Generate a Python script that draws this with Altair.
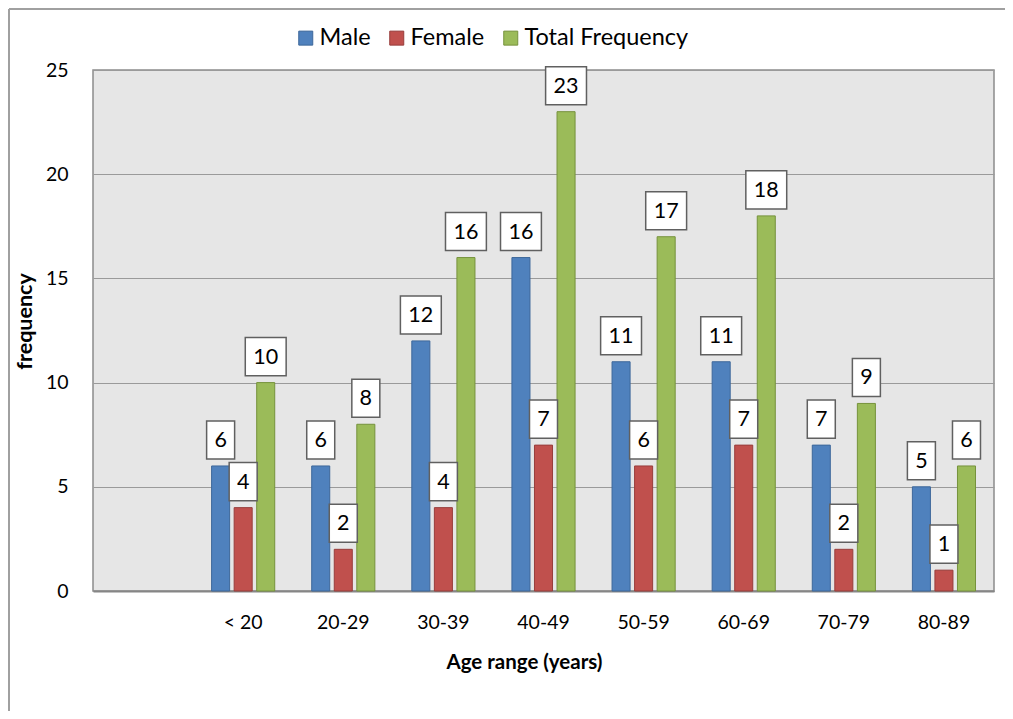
import altair as alt
import pandas as pd

categories = [" ", "< 20", "20-29", "30-39", "40-49", "50-59", "60-69", "70-79", "80-89"]
age_groups = categories[1:]
male = [6, 6, 12, 16, 11, 11, 7, 5]
female = [4, 2, 4, 7, 6, 7, 2, 1]
total = [10, 8, 16, 23, 17, 18, 9, 6]
series = ["Male", "Female", "Total Frequency"]
fill_colors = ["#4f81bd", "#c0504d", "#9bbb59"]
edge_colors = ["#3d679a", "#973d3b", "#76923c"]
y_ticks = [0, 5, 10, 15, 20, 25]

rows = []
for s, vals in zip(series, [male, female, total]):
    for g, v in zip(age_groups, vals):
        rows.append({"age": g, "series": s, "value": v, "digits": str(len(str(v)))})
df = pd.DataFrame(rows)

FONT = "Lato"

x_enc = alt.X(
    "age:N",
    scale=alt.Scale(domain=categories, paddingInner=0, paddingOuter=0),
    sort=categories,
    title="Age range (years)",
    axis=alt.Axis(
        labelAngle=0, ticks=False, domain=True, domainColor="#868686", domainWidth=2,
        labelFont=FONT, labelFontSize=19.5, labelColor="black", labelPadding=22,
        titleFont=FONT, titleFontSize=20.5, titleFontWeight="bold", titleColor="black",
        titleX=431, titleY=71, titleBaseline="middle", titleAlign="center",
    ),
)
xo_enc = alt.XOffset(
    "series:N",
    scale=alt.Scale(domain=series, paddingInner=0.2, paddingOuter=0.82),
    sort=series,
)
y_enc = alt.Y(
    "value:Q",
    scale=alt.Scale(domain=[0, 25], nice=False),
    title="frequency",
    axis=alt.Axis(
        values=y_ticks, ticks=False, domain=False, grid=True, gridColor="#9a9a9a", gridWidth=1,
        labelFont=FONT, labelFontSize=19.5, labelColor="black", labelPadding=25,
        titleFont=FONT, titleFontSize=21.5, titleFontWeight="bold", titleColor="black",
        titleX=-68, titleY=251, titleBaseline="middle", titleAngle=-90, titleAlign="center",
    ),
)

base = alt.Chart(df)

bars = base.mark_bar(strokeWidth=1).encode(
    x=x_enc,
    xOffset=xo_enc,
    y=y_enc,
    color=alt.Color(
        "series:N",
        scale=alt.Scale(domain=series, range=fill_colors),
        title=None,
        legend=alt.Legend(
            orient="none", legendX=201, legendY=-44, direction="horizontal",
            symbolType="square", symbolSize=196, symbolStrokeWidth=1,
            labelFont=FONT, labelFontSize=23.5, labelColor="black", labelLimit=300,
            labelOffset=2, columnPadding=14,
        ),
    ),
    stroke=alt.Stroke(
        "series:N",
        scale=alt.Scale(domain=series, range=edge_colors),
        title=None,
    ),
)

box_paths = ["M-1,-1.36H1V1.36H-1Z", "M-1.46,-1.36H1.46V1.36H-1.46Z"]

boxes = base.mark_point(
    filled=True, fill="white", stroke="#606060", strokeWidth=1.5,
    opacity=1, fillOpacity=1, strokeOpacity=1, yOffset=-26,
).encode(
    x=x_enc,
    xOffset=xo_enc,
    y=y_enc,
    shape=alt.Shape("digits:N", scale=alt.Scale(domain=["1", "2"], range=box_paths), legend=None),
    size=alt.value(784),
)

texts = base.mark_text(
    font=FONT, fontSize=21.5, color="black", baseline="middle", align="center", dy=-25,
).encode(
    x=x_enc,
    xOffset=xo_enc,
    y=y_enc,
    text=alt.Text("value:Q"),
)

frame_df = pd.DataFrame({"k": [0]})
frame_left = alt.Chart(frame_df).mark_rule(color="#a0a0a0", strokeWidth=2).encode(
    x=alt.value(-84), y=alt.value(-61), y2=alt.value(700)
)
frame_top = alt.Chart(frame_df).mark_rule(color="#a0a0a0", strokeWidth=2).encode(
    x=alt.value(-84), x2=alt.value(1010), y=alt.value(-61)
)

chart = alt.layer(frame_left, frame_top, bars, boxes, texts).properties(
    width=901,
    height=521,
    autosize=alt.AutoSizeParams(type="none"),
    padding={"left": 85, "top": 62, "right": 11, "bottom": 120},
    background="white",
).configure_view(
    fill="#e6e6e6", stroke="#8c8c8c", strokeWidth=1.5,
)

chart.save("out.html", embed_options={"renderer": "svg", "actions": False})
